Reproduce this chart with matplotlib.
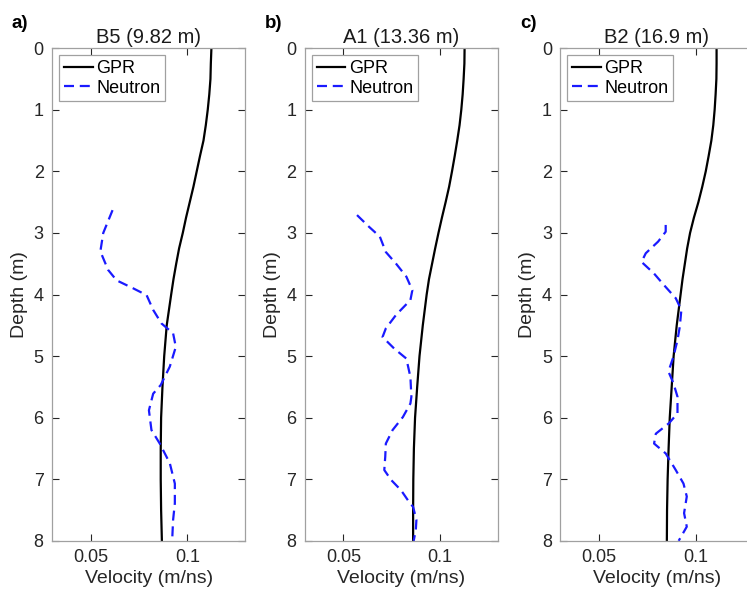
import matplotlib
matplotlib.use("Agg")
import matplotlib.pyplot as plt
from matplotlib.ticker import FixedLocator, FixedFormatter

plt.rcParams['font.family'] = ['Liberation Sans', 'DejaVu Sans']

titles = ["B5 (9.82 m)", "A1 (13.36 m)", "B2 (16.9 m)"]
panel_labels = ["a)", "b)", "c)"]

# GPR velocity profiles (depth in m, velocity in m/ns)
gpr_depth = [0, 0.25, 0.5, 0.75, 1, 1.25, 1.5, 1.75, 2, 2.25, 2.5, 2.75, 3, 3.25,
             3.5, 3.75, 4, 4.5, 5, 5.5, 6, 6.5, 7, 7.5, 8]
gpr_b5 = [0.1124, 0.1121, 0.1119, 0.1113, 0.1105, 0.1095, 0.1083, 0.1065, 0.1048,
          0.1031, 0.1012, 0.0993, 0.0976, 0.0957, 0.0942, 0.0928, 0.0916,
          0.0893, 0.0880, 0.0871, 0.0864, 0.0862, 0.0862, 0.0864, 0.0868]
gpr_a1 = [0.1126, 0.1125, 0.1121, 0.1116, 0.1109, 0.1100, 0.1088, 0.1075, 0.1061,
          0.1046, 0.1028, 0.1009, 0.0991, 0.0974, 0.0958, 0.0942, 0.0930,
          0.0910, 0.0893, 0.0881, 0.0870, 0.0864, 0.0861, 0.0860, 0.0860]
gpr_b2 = [0.1108, 0.1108, 0.1107, 0.1103, 0.1098, 0.1091, 0.1081, 0.1067, 0.1052,
          0.1034, 0.1014, 0.0991, 0.0971, 0.0956, 0.0944, 0.0932, 0.0922,
          0.0902, 0.0886, 0.0876, 0.0866, 0.0860, 0.0855, 0.0852, 0.0851]

# Neutron-derived velocities
neu_b5_depth = [2.63, 3.0, 3.3, 3.6, 3.77, 3.9, 4.01, 4.25, 4.47, 4.63, 4.85, 5.17,
                5.47, 5.61, 5.88, 6.2, 6.42, 6.74, 7.07, 7.39, 7.66, 8.0]
neu_b5 = [0.0613, 0.0565, 0.0550, 0.0590, 0.0634, 0.0720, 0.0789, 0.0823, 0.0866,
          0.0926, 0.0940, 0.0909, 0.0862, 0.0823, 0.0801, 0.0814, 0.0857, 0.0909,
          0.0935, 0.0935, 0.0926, 0.0921]

neu_a1_depth = [2.71, 2.90, 3.06, 3.31, 3.50, 3.71, 3.93, 4.09, 4.33, 4.55, 4.69, 4.88,
                5.04, 5.34, 5.66, 5.77, 5.99, 6.20, 6.42, 6.63, 6.85, 7.01, 7.18,
                7.34, 7.45, 7.66, 7.82, 8.0]
neu_a1 = [0.0570, 0.0632, 0.0688, 0.0719, 0.0772, 0.0825, 0.0856, 0.0846, 0.0772,
          0.0719, 0.0702, 0.0763, 0.0825, 0.0846, 0.0851, 0.0846, 0.0807, 0.0754,
          0.0719, 0.0716, 0.0711, 0.0746, 0.0798, 0.0833, 0.0860, 0.0877, 0.0874,
          0.0863]

neu_b2_depth = [2.87, 2.98, 3.14, 3.33, 3.47, 3.66, 3.85, 4.06, 4.25, 4.52, 4.74, 5.01,
                5.25, 5.44, 5.66, 5.93, 6.09, 6.26, 6.42, 6.58, 6.85, 7.07, 7.28,
                7.55, 7.77, 8.0]
neu_b2 = [0.0845, 0.0845, 0.0806, 0.0742, 0.0720, 0.0785, 0.0837, 0.0897, 0.0926,
          0.0918, 0.0906, 0.0885, 0.0859, 0.0885, 0.0906, 0.0906, 0.0862, 0.0794,
          0.0785, 0.0845, 0.0897, 0.0937, 0.0954, 0.0940, 0.0954, 0.0912]

gpr_all = [gpr_b5, gpr_a1, gpr_b2]
neu_all = [(neu_b5_depth, neu_b5), (neu_a1_depth, neu_a1), (neu_b2_depth, neu_b2)]

fig = plt.figure(figsize=(7.47, 5.95), dpi=100)
lefts = [0.0696, 0.408, 0.750]
width = 0.259
bottom = 0.091
height = 0.828

for i in range(3):
    ax = fig.add_axes([lefts[i], bottom, width, height])
    ax.plot(gpr_all[i], gpr_depth, color="black", lw=1.6, label="GPR")
    ax.plot(neu_all[i][1], neu_all[i][0], color="#1a1aff", lw=1.6,
            linestyle=(0, (4.5, 2.6)), label="Neutron")
    ax.set_xlim(0.03, 0.13)
    ax.set_ylim(8, 0)
    ax.xaxis.set_major_locator(FixedLocator([0.05, 0.1]))
    ax.xaxis.set_major_formatter(FixedFormatter(["0.05", "0.1"]))
    ax.set_yticks(range(9))
    ax.tick_params(direction="in", top=True, right=True, labelsize=13,
                   colors="#262626", length=5, width=0.8, pad=6)
    for tl in ax.get_xticklabels() + ax.get_yticklabels():
        tl.set_color("#262626")
    for sp in ax.spines.values():
        sp.set_color("#a0a0a0")
        sp.set_linewidth(0.9)
    ax.set_xlabel("Velocity (m/ns)", fontsize=14, color="#262626", labelpad=3)
    ax.set_ylabel("Depth (m)", fontsize=14, color="#262626", labelpad=4)
    ax.set_title(titles[i], fontsize=14.5, color="#1a1a1a", pad=4)
    leg = ax.legend(loc="upper left", fontsize=13, handlelength=1.6,
                    handletextpad=0.2, borderpad=0.25, labelspacing=0.15,
                    borderaxespad=0.4, fancybox=False, framealpha=1)
    leg.get_frame().set_edgecolor("#a0a0a0")
    leg.get_frame().set_linewidth(0.9)
    fig.text(lefts[i] - 0.054, 0.96, panel_labels[i], fontsize=13.5,
             fontweight="bold", ha="left", va="center")

fig.savefig("out.png", dpi=100)
